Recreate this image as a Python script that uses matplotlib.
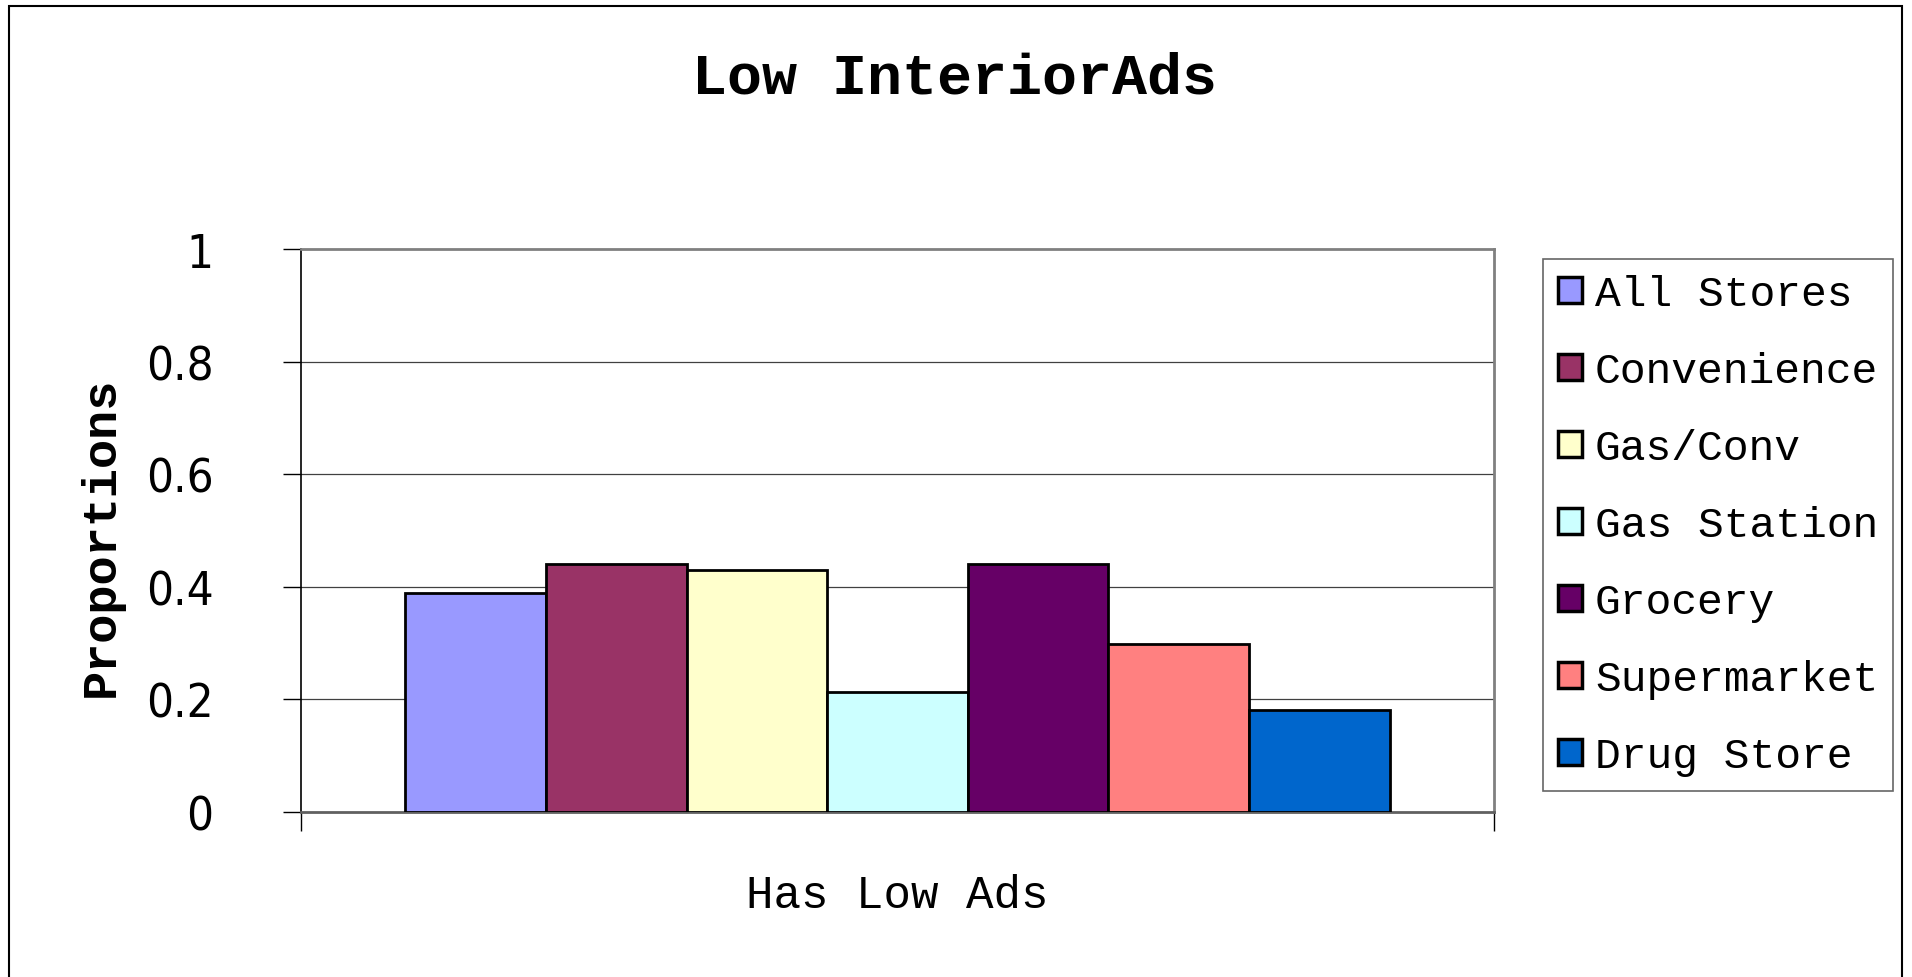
import matplotlib
matplotlib.use("Agg")
import matplotlib.pyplot as plt
from matplotlib.patches import Rectangle
import numpy as np

title = "Low InteriorAds"
xlabel = "Has Low Ads"
ylabel = "Proportions"
series = ["All Stores", "Convenience", "Gas/Conv", "Gas Station", "Grocery", "Supermarket", "Drug Store"]
values = [0.389, 0.441, 0.429, 0.214, 0.441, 0.299, 0.181]
colors = ["#9999FF", "#993366", "#FFFFCC", "#CCFFFF", "#660066", "#FF8080", "#0066CC"]
yticks = [0, 0.2, 0.4, 0.6, 0.8, 1]
ytick_labels = ["0", "0.2", "0.4", "0.6", "0.8", "1"]

W, H = 1912, 978
fig = plt.figure(figsize=(W / 100, H / 100), dpi=100)
fig.patch.set_facecolor("white")

# outer chart border
fig.patches.append(Rectangle((9 / W, -0.05), (1902 - 9) / W, 1.05 - 7 / H,
                             transform=fig.transFigure, fill=False,
                             edgecolor="black", linewidth=1.5, clip_on=False))

ax = fig.add_axes([301 / W, (H - 813) / H, (1494 - 301) / W, (813 - 250) / H])

group_width = 0.825
n = len(values)
bw = group_width / n
xs = -group_width / 2 + bw * (np.arange(n) + 0.5)
for x, v, c, lab in zip(xs, values, colors, series):
    ax.bar(x, v, width=bw, color=c, edgecolor="black", linewidth=2, label=lab, zorder=3)

ax.set_xlim(-0.5, 0.5)
ax.set_ylim(0, 1)
ax.set_yticks(yticks)
ax.set_yticklabels(ytick_labels, fontfamily="DejaVu Sans", fontstretch="condensed",
                   fontweight="light", fontsize=34)
ax.set_xticks([-0.5, 0.5])
ax.set_xticklabels(["", ""])
ax.tick_params(axis="x", length=14, width=1, color="black", direction="out")
ax.tick_params(axis="y", length=13, width=1, color="black", direction="out", pad=50)

for y in yticks[1:-1]:
    ax.axhline(y, color="#404040", linewidth=0.9, zorder=1)

ax.spines["left"].set_color("black")
ax.spines["left"].set_linewidth(1.2)
ax.spines["bottom"].set_color("#606060")
ax.spines["bottom"].set_linewidth(2)
ax.spines["top"].set_color("#808080")
ax.spines["top"].set_linewidth(2)
ax.spines["right"].set_color("#808080")
ax.spines["right"].set_linewidth(2)

fig.text(955 / W, 1 - 79 / H, title, ha="center", va="center",
         fontfamily="Liberation Mono", fontweight="bold", fontsize=42)
fig.text(897 / W, 1 - 896 / H, xlabel, ha="center", va="center",
         fontfamily="Liberation Mono", fontsize=33)
fig.text(101 / W, 1 - 537 / H, ylabel, ha="center", va="center", rotation=90,
         fontfamily="Liberation Mono", fontweight="bold", fontsize=35)

leg = ax.legend(loc="upper left", bbox_to_anchor=(1543 / W, 1 - 260 / H),
                bbox_transform=fig.transFigure,
                prop={"family": "Liberation Mono", "size": 31},
                frameon=True, fancybox=False, borderpad=0.35,
                labelspacing=0.86, handlelength=0.56, handleheight=0.56,
                handletextpad=0.3, borderaxespad=0)
leg.get_frame().set_edgecolor("#404040")
leg.get_frame().set_linewidth(1.2)
for h in leg.legend_handles:
    h.set_linewidth(2.5)

fig.savefig("out.png", dpi=100, facecolor="white")
